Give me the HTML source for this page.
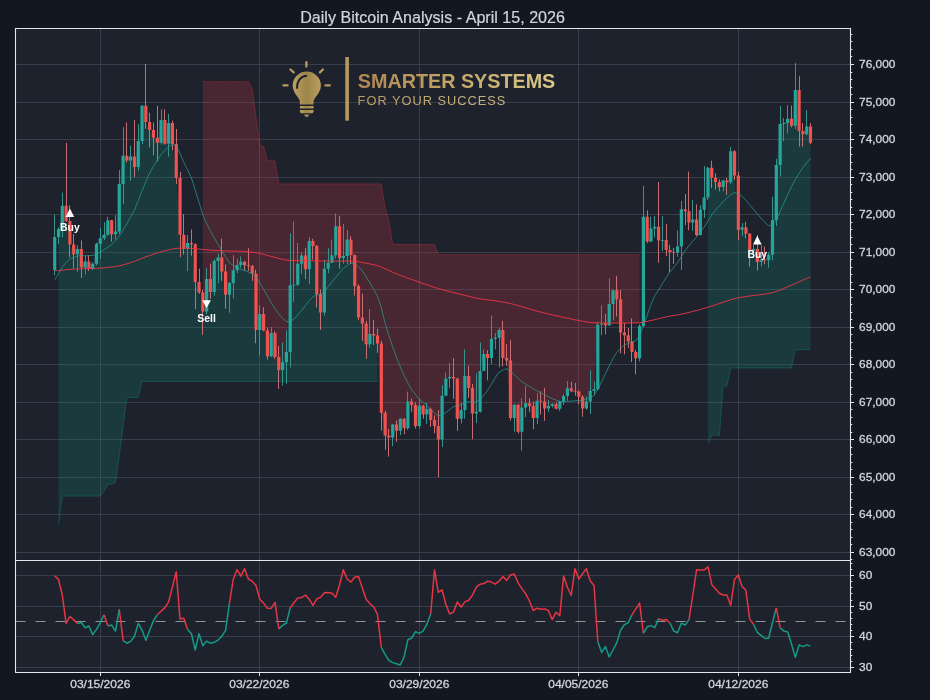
<!DOCTYPE html>
<html lang="en"><head><meta charset="utf-8"><title>Daily Bitcoin Analysis - April 15, 2026</title>
<style>html,body{margin:0;padding:0;background:#131722;}body{width:930px;height:700px;overflow:hidden;font-family:"Liberation Sans",sans-serif;}svg{display:block;will-change:transform}</style>
</head><body>
<svg width="930" height="700" viewBox="0 0 930 700" font-family="'Liberation Sans', sans-serif">
<defs>
<linearGradient id="g1" x1="0" y1="0" x2="1" y2="0"><stop offset="0" stop-color="#b98f54"/><stop offset="0.5" stop-color="#d1b06c"/><stop offset="1" stop-color="#e8d690"/></linearGradient>
<linearGradient id="g2" x1="0" y1="0" x2="1" y2="0"><stop offset="0" stop-color="#c9aa68"/><stop offset="0.5" stop-color="#a58d4c"/><stop offset="1" stop-color="#c8aa66"/></linearGradient>
<linearGradient id="g3" x1="0" y1="0" x2="1" y2="0"><stop offset="0" stop-color="#c2a565"/><stop offset="1" stop-color="#d6c283"/></linearGradient>
<clipPath id="cu"><rect x="15.5" y="28.5" width="835.0" height="532.0"/></clipPath>
<clipPath id="cl"><rect x="15.5" y="560.5" width="835.0" height="112.0"/></clipPath>
</defs>
<rect width="930" height="700" fill="#131722"/>
<rect x="15.5" y="28.5" width="835.0" height="644.0" fill="#1e222d"/>
<path d="M100.50 28.5V672.5M259.50 28.5V672.5M419.50 28.5V672.5M578.50 28.5V672.5M738.50 28.5V672.5M15.5 552.50H850.5M15.5 514.50H850.5M15.5 477.50H850.5M15.5 439.50H850.5M15.5 402.50H850.5M15.5 364.50H850.5M15.5 327.50H850.5M15.5 289.50H850.5M15.5 252.50H850.5M15.5 214.50H850.5M15.5 177.50H850.5M15.5 139.50H850.5M15.5 102.50H850.5M15.5 64.50H850.5M15.5 667.50H850.5M15.5 636.50H850.5M15.5 606.50H850.5M15.5 575.50H850.5" stroke="#393d49" stroke-width="1" fill="none"/>
<g clip-path="url(#cu)">
<path d="M58.5 228.9L62.3 205.8L66.1 221.0L69.9 244.6L73.7 254.3L77.5 249.1L81.3 267.5L85.1 261.5L88.9 269.0L92.7 263.8L96.5 243.8L100.3 238.3L104.1 234.8L107.9 220.2L111.7 234.3L115.5 231.6L119.3 184.1L123.1 155.8L126.9 160.4L130.7 156.6L134.5 167.0L138.3 141.0L142.1 105.8L145.9 122.0L149.7 129.9L153.4 137.7L157.2 142.8L161.0 120.1L164.8 143.7L168.6 123.0L172.4 144.0L176.2 178.1L180.0 234.8L183.8 248.7L187.6 243.0L191.4 244.2L195.2 282.0L199.0 292.4L202.8 311.6L206.6 279.1L210.4 292.0L214.2 261.1L218.0 257.6L221.8 271.4L225.6 294.7L229.4 283.1L233.2 270.3L237.0 265.0L240.8 261.8L244.6 265.2L248.4 265.8L252.2 273.5L256.0 329.9L259.8 314.1L263.6 330.4L267.4 356.2L271.2 333.0L275.0 357.1L278.8 370.0L282.6 362.3L286.4 351.9L290.2 285.2L294.0 284.8L297.8 263.7L301.6 255.4L305.4 269.2L309.2 240.9L313.0 246.1L316.8 294.3L320.6 312.5L324.4 268.8L328.2 262.8L332.0 255.2L335.8 226.2L339.6 258.0L343.3 256.0L347.1 239.6L350.9 255.0L354.7 286.0L358.5 317.5L362.3 323.5L366.1 344.2L369.9 333.9L373.7 335.6L377.5 343.5L377.5 381.4L373.7 381.4L369.9 381.4L366.1 381.4L362.3 381.4L358.5 381.4L354.7 381.4L350.9 381.4L347.1 381.4L343.3 381.4L339.6 381.4L335.8 381.4L332.0 381.4L328.2 381.4L324.4 381.4L320.6 381.4L316.8 381.4L313.0 381.4L309.2 381.4L305.4 381.4L301.6 381.4L297.8 381.4L294.0 381.4L290.2 381.4L286.4 381.4L282.6 381.4L278.8 381.4L275.0 381.4L271.2 381.4L267.4 381.4L263.6 381.4L259.8 381.4L256.0 381.4L252.2 381.4L248.4 381.4L244.6 381.4L240.8 381.4L237.0 381.4L233.2 381.4L229.4 381.4L225.6 381.4L221.8 381.4L218.0 381.4L214.2 381.4L210.4 381.4L206.6 381.4L202.8 381.4L199.0 381.4L195.2 381.4L191.4 381.4L187.6 381.4L183.8 381.4L180.0 381.4L176.2 381.4L172.4 381.4L168.6 381.4L164.8 381.4L161.0 381.4L157.2 381.4L153.4 381.4L149.7 381.4L145.9 381.4L142.1 381.4L138.3 397.5L134.5 397.5L130.7 397.5L126.9 397.5L123.1 426.5L119.3 455.5L115.5 482.6L111.7 484.0L107.9 484.4L104.1 491.3L100.3 496.1L96.5 496.1L92.7 496.1L88.9 496.1L85.1 496.1L81.3 496.1L77.5 496.1L73.7 496.1L69.9 496.1L66.1 496.1L62.3 496.1L58.5 524.8Z" fill="#089981" fill-opacity="0.2"/>
<path d="M58.5 524.8L62.3 496.1L66.1 496.1L69.9 496.1L73.7 496.1L77.5 496.1L81.3 496.1L85.1 496.1L88.9 496.1L92.7 496.1L96.5 496.1L100.3 496.1L104.1 491.3L107.9 484.4L111.7 484.0L115.5 482.6L119.3 455.5L123.1 426.5L126.9 397.5L130.7 397.5L134.5 397.5L138.3 397.5L142.1 381.4L145.9 381.4L149.7 381.4L153.4 381.4L157.2 381.4L161.0 381.4L164.8 381.4L168.6 381.4L172.4 381.4L176.2 381.4L180.0 381.4L183.8 381.4L187.6 381.4L191.4 381.4L195.2 381.4L199.0 381.4L202.8 381.4L206.6 381.4L210.4 381.4L214.2 381.4L218.0 381.4L221.8 381.4L225.6 381.4L229.4 381.4L233.2 381.4L237.0 381.4L240.8 381.4L244.6 381.4L248.4 381.4L252.2 381.4L256.0 381.4L259.8 381.4L263.6 381.4L267.4 381.4L271.2 381.4L275.0 381.4L278.8 381.4L282.6 381.4L286.4 381.4L290.2 381.4L294.0 381.4L297.8 381.4L301.6 381.4L305.4 381.4L309.2 381.4L313.0 381.4L316.8 381.4L320.6 381.4L324.4 381.4L328.2 381.4L332.0 381.4L335.8 381.4L339.6 381.4L343.3 381.4L347.1 381.4L350.9 381.4L354.7 381.4L358.5 381.4L362.3 381.4L366.1 381.4L369.9 381.4L373.7 381.4L377.5 381.4" stroke="#089981" stroke-opacity="0.35" stroke-width="1" fill="none"/>
<path d="M202.8 81.7L206.6 81.7L210.4 81.7L214.2 81.7L218.0 81.7L221.8 81.7L225.6 81.7L229.4 81.7L233.2 81.7L237.0 81.7L240.8 81.7L244.6 81.7L248.4 81.7L252.2 88.9L256.0 117.3L259.8 145.7L263.6 146.6L267.4 160.3L271.2 160.8L275.0 161.2L278.8 183.9L282.6 183.9L286.4 183.9L290.2 183.9L294.0 183.9L297.8 183.9L301.6 183.9L305.4 183.9L309.2 183.9L313.0 183.9L316.8 183.9L320.6 183.9L324.4 183.9L328.2 183.9L332.0 183.9L335.8 183.9L339.6 183.9L343.3 183.9L347.1 183.9L350.9 183.9L354.7 183.9L358.5 183.9L362.3 183.9L366.1 183.9L369.9 183.9L373.7 183.9L377.5 183.9L381.3 183.9L385.1 208.3L388.9 220.5L392.7 244.5L396.5 244.5L400.3 244.5L404.1 244.5L407.9 244.5L411.7 244.5L415.5 244.5L419.3 244.5L423.1 244.5L426.9 244.5L430.7 244.5L434.5 244.5L438.3 254.7L442.1 254.7L445.9 254.7L449.7 254.7L453.5 254.7L457.3 254.7L461.1 254.7L464.9 254.7L468.7 254.7L472.5 254.7L476.3 254.7L480.1 254.7L483.9 254.7L487.7 254.7L491.5 254.7L495.3 254.7L499.1 254.7L502.9 254.7L506.7 254.7L510.5 254.7L514.3 254.7L518.1 254.7L521.9 254.7L525.7 254.7L529.5 254.7L533.2 254.7L537.0 254.7L540.8 254.7L544.6 254.7L548.4 254.7L552.2 254.7L556.0 254.7L559.8 254.7L563.6 254.7L567.4 254.7L571.2 254.7L575.0 254.7L578.8 254.7L582.6 254.7L586.4 254.7L590.2 254.7L594.0 254.7L597.8 254.7L601.6 254.7L605.4 254.7L609.2 254.7L613.0 254.7L616.8 254.7L620.6 254.7L624.4 254.7L628.2 254.7L632.0 254.7L635.8 254.7L639.6 254.7L639.6 323.2L635.8 323.2L632.0 323.2L628.2 323.2L624.4 323.2L620.6 323.2L616.8 323.2L613.0 323.2L609.2 323.2L605.4 323.2L601.6 323.2L597.8 323.2L594.0 389.2L590.2 390.9L586.4 401.6L582.6 408.5L578.8 396.8L575.0 391.6L571.2 391.3L567.4 388.2L563.6 396.1L559.8 401.3L556.0 408.8L552.2 404.2L548.4 405.9L544.6 408.5L540.8 401.6L537.0 400.8L533.2 418.0L529.5 405.9L525.7 403.3L521.9 407.6L518.1 431.7L514.3 404.7L510.5 418.0L506.7 360.4L502.9 358.0L499.1 329.9L495.3 337.8L491.5 339.0L487.7 358.0L483.9 354.0L480.1 370.9L476.3 411.8L472.5 413.5L468.7 387.9L464.9 376.0L461.1 410.1L457.3 418.7L453.5 378.6L449.7 376.9L445.9 378.6L442.1 395.8L438.3 439.4L434.5 426.1L430.7 419.9L426.9 408.9L423.1 414.4L419.3 405.8L415.5 426.1L411.7 405.0L407.9 401.5L404.1 428.2L400.3 418.7L396.5 430.8L392.7 424.4L388.9 437.6L385.1 435.4L381.3 412.7L377.5 343.5L373.7 335.6L369.9 333.9L366.1 344.2L362.3 323.5L358.5 317.5L354.7 286.0L350.9 255.0L347.1 239.6L343.3 256.0L339.6 258.0L335.8 226.2L332.0 255.2L328.2 262.8L324.4 268.8L320.6 312.5L316.8 294.3L313.0 246.1L309.2 240.9L305.4 269.2L301.6 255.4L297.8 263.7L294.0 284.8L290.2 285.2L286.4 351.9L282.6 362.3L278.8 370.0L275.0 357.1L271.2 333.0L267.4 356.2L263.6 330.4L259.8 314.1L256.0 329.9L252.2 273.5L248.4 265.8L244.6 265.2L240.8 261.8L237.0 265.0L233.2 270.3L229.4 283.1L225.6 294.7L221.8 271.4L218.0 257.6L214.2 261.1L210.4 292.0L206.6 279.1L202.8 311.6Z" fill="#f23645" fill-opacity="0.2"/>
<path d="M202.8 81.7L206.6 81.7L210.4 81.7L214.2 81.7L218.0 81.7L221.8 81.7L225.6 81.7L229.4 81.7L233.2 81.7L237.0 81.7L240.8 81.7L244.6 81.7L248.4 81.7L252.2 88.9L256.0 117.3L259.8 145.7L263.6 146.6L267.4 160.3L271.2 160.8L275.0 161.2L278.8 183.9L282.6 183.9L286.4 183.9L290.2 183.9L294.0 183.9L297.8 183.9L301.6 183.9L305.4 183.9L309.2 183.9L313.0 183.9L316.8 183.9L320.6 183.9L324.4 183.9L328.2 183.9L332.0 183.9L335.8 183.9L339.6 183.9L343.3 183.9L347.1 183.9L350.9 183.9L354.7 183.9L358.5 183.9L362.3 183.9L366.1 183.9L369.9 183.9L373.7 183.9L377.5 183.9L381.3 183.9L385.1 208.3L388.9 220.5L392.7 244.5L396.5 244.5L400.3 244.5L404.1 244.5L407.9 244.5L411.7 244.5L415.5 244.5L419.3 244.5L423.1 244.5L426.9 244.5L430.7 244.5L434.5 244.5L438.3 254.7L442.1 254.7L445.9 254.7L449.7 254.7L453.5 254.7L457.3 254.7L461.1 254.7L464.9 254.7L468.7 254.7L472.5 254.7L476.3 254.7L480.1 254.7L483.9 254.7L487.7 254.7L491.5 254.7L495.3 254.7L499.1 254.7L502.9 254.7L506.7 254.7L510.5 254.7L514.3 254.7L518.1 254.7L521.9 254.7L525.7 254.7L529.5 254.7L533.2 254.7L537.0 254.7L540.8 254.7L544.6 254.7L548.4 254.7L552.2 254.7L556.0 254.7L559.8 254.7L563.6 254.7L567.4 254.7L571.2 254.7L575.0 254.7L578.8 254.7L582.6 254.7L586.4 254.7L590.2 254.7L594.0 254.7L597.8 254.7L601.6 254.7L605.4 254.7L609.2 254.7L613.0 254.7L616.8 254.7L620.6 254.7L624.4 254.7L628.2 254.7L632.0 254.7L635.8 254.7L639.6 254.7" stroke="#f23645" stroke-opacity="0.3" stroke-width="1" fill="none"/>
<path d="M708.0 167.8L711.8 177.8L715.6 182.1L719.4 187.0L723.1 180.5L726.9 182.3L730.7 151.3L734.5 175.5L738.3 229.7L742.1 227.3L745.9 233.7L749.7 250.4L753.5 249.0L757.3 262.0L761.1 259.4L764.9 260.2L768.7 254.7L772.5 220.0L776.3 164.9L780.1 124.0L783.9 123.1L787.7 118.8L791.5 125.7L795.3 89.9L799.1 130.9L802.9 134.3L806.7 126.6L810.5 142.8L810.5 349.6L806.7 349.6L802.9 349.6L799.1 349.6L795.3 349.6L791.5 368.0L787.7 368.0L783.9 368.0L780.1 368.0L776.3 368.0L772.5 368.0L768.7 368.0L764.9 368.0L761.1 368.0L757.3 368.0L753.5 368.0L749.7 368.0L745.9 368.0L742.1 368.0L738.3 368.0L734.5 368.0L730.7 368.0L726.9 385.8L723.1 385.8L719.4 435.3L715.6 435.3L711.8 435.3L708.0 443.4Z" fill="#089981" fill-opacity="0.2"/>
<path d="M708.0 443.4L711.8 435.3L715.6 435.3L719.4 435.3L723.1 385.8L726.9 385.8L730.7 368.0L734.5 368.0L738.3 368.0L742.1 368.0L745.9 368.0L749.7 368.0L753.5 368.0L757.3 368.0L761.1 368.0L764.9 368.0L768.7 368.0L772.5 368.0L776.3 368.0L780.1 368.0L783.9 368.0L787.7 368.0L791.5 368.0L795.3 349.6L799.1 349.6L802.9 349.6L806.7 349.6L810.5 349.6" stroke="#089981" stroke-opacity="0.35" stroke-width="1" fill="none"/>
<path d="M54.5 214.5V275.3M58.5 227.4V244.3M62.5 192.7V237.4M77.5 245.2V271.8M85.5 255.5V274.4M92.5 262.4V270.1M96.5 242.6V265.3M100.5 228.0V258.9M104.5 222.3V240.0M107.5 216.8V235.7M115.5 215.1V239.5M119.5 170.0V234.0M123.5 127.0V203.9M130.5 145.6V180.6M138.5 124.1V170.7M142.5 105.0V144.2M161.5 109.3V144.5M168.5 113.9V156.7M187.5 235.0V271.0M206.5 268.0V314.5M214.5 259.4V295.6M218.5 253.7V283.4M229.5 282.0V312.7M233.5 255.0V298.4M237.5 258.8V273.1M240.5 256.4V268.0M259.5 305.2V355.4M271.5 327.0V357.1M282.5 342.5V385.5M286.5 330.4V383.8M290.5 233.5V367.4M293.5 221.5V302.0M297.5 243.0V286.0M301.5 252.5V274.0M309.5 237.0V284.3M324.5 259.9V315.5M328.5 248.2V273.1M331.5 239.6V263.3M335.5 213.4V258.5M343.5 224.1V263.7M347.5 230.1V264.0M369.5 308.9V347.6M392.5 423.9V446.2M400.5 418.2V435.0M407.5 391.6V429.9M419.5 398.6V428.2M426.5 402.7V423.9M442.5 385.3V446.8M445.5 372.6V395.8M449.5 363.1V387.8M461.5 402.4V423.4M464.5 349.4V418.7M476.5 373.4V423.0M480.5 342.5V412.6M483.5 349.4V371.0M491.5 315.4V364.0M495.5 333.0V349.4M499.5 327.8V367.3M514.5 404.2V431.7M521.5 398.2V450.6M525.5 386.1V417.1M537.5 393.0V424.0M548.5 399.9V411.9M552.5 403.3V407.6M559.5 400.8V411.1M563.5 393.9V405.0M567.5 381.0V400.8M586.5 396.5V409.4M590.5 370.3V414.0M594.5 381.3V395.1M597.5 321.8V390.4M601.5 305.2V335.2M609.5 278.4V325.4M613.5 289.5V320.4M639.5 324.2V361.5M643.5 185.8V327.0M650.5 216.8V242.2M654.5 216.1V237.4M662.5 216.1V250.9M677.5 230.6V256.9M681.5 201.0V269.8M692.5 200.1V230.6M700.5 205.1V235.6M704.5 166.0V218.0M707.5 166.8V200.2M723.5 179.6V191.2M730.5 147.2V184.0M742.5 223.0V236.0M753.5 245.0V258.0M761.5 244.8V266.3M768.5 252.5V267.6M772.5 196.8V260.3M776.5 159.0V226.0M780.5 105.9V176.5M783.5 118.0V141.2M787.5 105.1V133.4M795.5 62.9V129.1M806.5 109.9V135.2" stroke="#37a096" stroke-width="1" stroke-opacity="0.9" fill="none"/>
<path d="M53.10 237.0h3.2v33.1h-3.2zM56.90 228.9h3.2v8.1h-3.2zM60.70 205.8h3.2v23.1h-3.2zM75.89 249.1h3.2v5.2h-3.2zM83.48 261.5h3.2v6.0h-3.2zM91.08 263.8h3.2v5.2h-3.2zM94.88 243.8h3.2v20.0h-3.2zM98.68 238.3h3.2v5.5h-3.2zM102.47 234.8h3.2v3.5h-3.2zM106.27 220.2h3.2v14.6h-3.2zM113.87 231.6h3.2v2.7h-3.2zM117.67 184.1h3.2v47.5h-3.2zM121.46 155.8h3.2v28.3h-3.2zM129.06 156.6h3.2v3.8h-3.2zM136.66 141.0h3.2v26.0h-3.2zM140.45 105.8h3.2v35.2h-3.2zM159.44 120.1h3.2v22.7h-3.2zM167.04 123.0h3.2v20.7h-3.2zM186.03 243.0h3.2v5.7h-3.2zM205.02 279.1h3.2v32.5h-3.2zM212.62 261.1h3.2v30.9h-3.2zM216.41 257.6h3.2v3.5h-3.2zM227.81 283.1h3.2v11.6h-3.2zM231.61 270.3h3.2v12.8h-3.2zM235.40 265.0h3.2v5.3h-3.2zM239.20 261.8h3.2v3.2h-3.2zM258.19 314.1h3.2v15.8h-3.2zM269.59 333.0h3.2v23.2h-3.2zM280.98 362.3h3.2v7.7h-3.2zM284.78 351.9h3.2v10.4h-3.2zM288.58 285.2h3.2v66.7h-3.2zM292.37 284.8h3.2v0.7h-3.2zM296.17 263.7h3.2v21.1h-3.2zM299.97 255.4h3.2v8.3h-3.2zM307.57 240.9h3.2v28.3h-3.2zM322.76 268.8h3.2v43.7h-3.2zM326.56 262.8h3.2v6.0h-3.2zM330.35 255.2h3.2v7.6h-3.2zM334.15 226.2h3.2v29.0h-3.2zM341.75 256.0h3.2v2.0h-3.2zM345.55 239.6h3.2v16.4h-3.2zM368.33 333.9h3.2v10.3h-3.2zM391.12 424.4h3.2v13.2h-3.2zM398.72 418.7h3.2v12.1h-3.2zM406.31 401.5h3.2v26.7h-3.2zM417.71 405.8h3.2v20.3h-3.2zM425.30 408.9h3.2v5.5h-3.2zM440.50 395.8h3.2v43.6h-3.2zM444.29 378.6h3.2v17.2h-3.2zM448.09 376.9h3.2v1.7h-3.2zM459.49 410.1h3.2v8.6h-3.2zM463.28 376.0h3.2v34.1h-3.2zM474.68 411.8h3.2v1.7h-3.2zM478.48 370.9h3.2v40.9h-3.2zM482.27 354.0h3.2v16.9h-3.2zM489.87 339.0h3.2v19.0h-3.2zM493.67 337.8h3.2v1.2h-3.2zM497.47 329.9h3.2v7.9h-3.2zM512.66 404.7h3.2v13.3h-3.2zM520.25 407.6h3.2v24.1h-3.2zM524.05 403.3h3.2v4.3h-3.2zM535.45 400.8h3.2v17.2h-3.2zM546.84 405.9h3.2v2.6h-3.2zM550.64 404.2h3.2v1.7h-3.2zM558.23 401.3h3.2v7.5h-3.2zM562.03 396.1h3.2v5.2h-3.2zM565.83 388.2h3.2v7.9h-3.2zM584.82 401.6h3.2v6.9h-3.2zM588.62 390.9h3.2v10.7h-3.2zM592.42 389.2h3.2v1.7h-3.2zM596.21 324.6h3.2v64.6h-3.2zM600.01 323.6h3.2v1.0h-3.2zM607.61 304.0h3.2v21.4h-3.2zM611.41 290.3h3.2v13.7h-3.2zM637.99 326.0h3.2v32.2h-3.2zM641.79 216.8h3.2v109.2h-3.2zM649.39 228.5h3.2v12.9h-3.2zM653.18 226.8h3.2v1.7h-3.2zM660.78 240.0h3.2v0.7h-3.2zM675.97 246.6h3.2v5.8h-3.2zM679.77 209.2h3.2v37.4h-3.2zM691.16 219.5h3.2v3.0h-3.2zM698.76 209.8h3.2v25.2h-3.2zM702.56 197.4h3.2v12.4h-3.2zM706.36 167.8h3.2v29.6h-3.2zM721.55 180.5h3.2v6.5h-3.2zM729.14 151.3h3.2v31.0h-3.2zM740.54 227.3h3.2v2.4h-3.2zM751.93 249.0h3.2v1.4h-3.2zM759.53 259.4h3.2v2.6h-3.2zM767.12 254.7h3.2v5.5h-3.2zM770.92 220.0h3.2v34.7h-3.2zM774.72 164.9h3.2v55.1h-3.2zM778.52 124.0h3.2v40.9h-3.2zM782.32 123.1h3.2v0.9h-3.2zM786.11 118.8h3.2v4.3h-3.2zM793.71 89.9h3.2v35.8h-3.2zM805.10 126.6h3.2v7.7h-3.2z" fill="#26a69a"/>
<path d="M66.5 142.9V221.9M69.5 205.2V257.2M73.5 234.0V268.4M81.5 240.5V277.9M88.5 255.5V271.0M111.5 220.0V241.7M126.5 122.5V162.6M134.5 120.0V177.2M145.5 64.0V128.8M149.5 112.7V147.4M153.5 122.4V155.3M157.5 105.8V161.4M164.5 109.3V144.6M172.5 120.8V150.5M176.5 129.0V184.1M180.5 172.0V257.2M183.5 214.2V254.6M191.5 229.5V255.6M195.5 243.4V309.2M199.5 268.7V294.0M202.5 290.0V334.8M210.5 263.7V298.8M221.5 238.7V280.9M225.5 264.5V308.7M244.5 261.1V270.5M248.5 248.2V270.9M252.5 265.0V280.9M255.5 269.7V343.3M263.5 307.3V331.3M267.5 327.8V359.7M274.5 331.3V358.8M278.5 345.9V388.9M305.5 248.2V279.1M312.5 238.7V259.4M316.5 245.0V307.4M320.5 289.5V329.9M339.5 215.8V268.8M350.5 236.1V264.0M354.5 254.5V295.5M358.5 284.3V320.1M362.5 293.8V340.8M366.5 321.0V358.8M373.5 320.1V345.0M377.5 328.7V352.8M381.5 340.8V430.8M385.5 410.6V449.7M388.5 429.0V456.6M396.5 420.4V441.9M404.5 418.2V434.2M411.5 398.5V411.8M415.5 402.4V428.5M423.5 405.0V418.7M430.5 407.5V426.8M434.5 415.3V433.3M438.5 410.1V477.2M453.5 358.0V398.9M457.5 377.8V430.8M468.5 365.7V398.2M472.5 383.8V439.4M487.5 350.2V380.3M502.5 321.0V366.5M506.5 344.2V365.7M510.5 340.2V420.5M518.5 404.2V433.4M529.5 398.5V411.9M533.5 401.6V429.1M540.5 391.3V414.5M544.5 387.8V420.9M556.5 402.5V409.4M571.5 381.8V392.2M575.5 383.0V395.6M578.5 390.4V404.2M582.5 395.1V416.8M605.5 314.0V334.2M616.5 275.8V316.5M620.5 290.1V353.2M624.5 323.0V354.3M628.5 328.0V348.0M631.5 318.3V362.0M635.5 350.0V374.3M647.5 210.4V243.1M658.5 182.0V262.9M666.5 224.2V256.0M669.5 244.8V272.4M673.5 247.8V263.8M685.5 194.1V225.1M688.5 171.7V230.2M696.5 204.4V236.0M711.5 160.7V188.2M715.5 173.3V189.5M719.5 179.3V191.3M726.5 178.0V195.0M734.5 150.3V180.0M738.5 171.8V240.0M745.5 221.7V238.2M749.5 233.0V266.6M757.5 234.9V270.6M764.5 246.5V264.1M791.5 105.4V127.4M799.5 76.2V146.5M802.5 123.1V146.6M810.5 123.1V144.3" stroke="#d8787a" stroke-width="1" stroke-opacity="0.9" fill="none"/>
<path d="M64.49 205.8h3.2v15.2h-3.2zM68.29 221.0h3.2v23.6h-3.2zM72.09 244.6h3.2v9.7h-3.2zM79.69 249.1h3.2v18.4h-3.2zM87.28 261.5h3.2v7.5h-3.2zM110.07 220.2h3.2v14.1h-3.2zM125.26 155.8h3.2v4.6h-3.2zM132.86 156.6h3.2v10.4h-3.2zM144.25 105.8h3.2v16.2h-3.2zM148.05 122.0h3.2v7.9h-3.2zM151.85 129.9h3.2v7.8h-3.2zM155.65 137.7h3.2v5.1h-3.2zM163.24 120.1h3.2v23.6h-3.2zM170.84 123.0h3.2v21.0h-3.2zM174.64 144.0h3.2v34.1h-3.2zM178.43 178.1h3.2v56.7h-3.2zM182.23 234.8h3.2v13.9h-3.2zM189.83 243.0h3.2v1.2h-3.2zM193.63 244.2h3.2v37.8h-3.2zM197.42 282.0h3.2v10.4h-3.2zM201.22 292.4h3.2v19.2h-3.2zM208.82 279.1h3.2v12.9h-3.2zM220.21 257.6h3.2v13.8h-3.2zM224.01 271.4h3.2v23.3h-3.2zM243.00 261.8h3.2v3.4h-3.2zM246.80 265.2h3.2v0.7h-3.2zM250.60 265.8h3.2v7.7h-3.2zM254.39 273.5h3.2v56.4h-3.2zM261.99 314.1h3.2v16.3h-3.2zM265.79 330.4h3.2v25.8h-3.2zM273.38 333.0h3.2v24.1h-3.2zM277.18 357.1h3.2v12.9h-3.2zM303.77 255.4h3.2v13.8h-3.2zM311.36 240.9h3.2v5.2h-3.2zM315.16 246.1h3.2v48.2h-3.2zM318.96 294.3h3.2v18.2h-3.2zM337.95 226.2h3.2v31.8h-3.2zM349.34 239.6h3.2v15.4h-3.2zM353.14 255.0h3.2v31.0h-3.2zM356.94 286.0h3.2v31.5h-3.2zM360.74 317.5h3.2v6.0h-3.2zM364.54 323.5h3.2v20.7h-3.2zM372.13 333.9h3.2v1.7h-3.2zM375.93 335.6h3.2v7.9h-3.2zM379.73 343.5h3.2v69.2h-3.2zM383.53 412.7h3.2v22.7h-3.2zM387.32 435.4h3.2v2.2h-3.2zM394.92 424.4h3.2v6.4h-3.2zM402.52 418.7h3.2v9.5h-3.2zM410.11 401.5h3.2v3.5h-3.2zM413.91 405.0h3.2v21.1h-3.2zM421.51 405.8h3.2v8.6h-3.2zM429.10 408.9h3.2v11.0h-3.2zM432.90 419.9h3.2v6.2h-3.2zM436.70 426.1h3.2v13.3h-3.2zM451.89 376.9h3.2v1.7h-3.2zM455.69 378.6h3.2v40.1h-3.2zM467.08 376.0h3.2v11.9h-3.2zM470.88 387.9h3.2v25.6h-3.2zM486.07 354.0h3.2v4.0h-3.2zM501.26 329.9h3.2v28.1h-3.2zM505.06 358.0h3.2v2.4h-3.2zM508.86 360.4h3.2v57.6h-3.2zM516.46 404.7h3.2v27.0h-3.2zM527.85 403.3h3.2v2.6h-3.2zM531.65 405.9h3.2v12.1h-3.2zM539.24 400.8h3.2v0.8h-3.2zM543.04 401.6h3.2v6.9h-3.2zM554.44 404.2h3.2v4.6h-3.2zM569.63 388.2h3.2v3.1h-3.2zM573.43 391.3h3.2v0.7h-3.2zM577.22 391.6h3.2v5.2h-3.2zM581.02 396.8h3.2v11.7h-3.2zM603.81 323.6h3.2v1.8h-3.2zM615.20 290.3h3.2v8.9h-3.2zM619.00 299.2h3.2v33.2h-3.2zM622.80 332.4h3.2v2.9h-3.2zM626.60 335.3h3.2v6.3h-3.2zM630.40 341.6h3.2v10.3h-3.2zM634.19 351.9h3.2v6.3h-3.2zM645.59 216.8h3.2v24.6h-3.2zM656.98 226.8h3.2v13.4h-3.2zM664.58 240.0h3.2v10.0h-3.2zM668.38 250.0h3.2v2.2h-3.2zM672.17 252.2h3.2v0.7h-3.2zM683.57 209.2h3.2v2.0h-3.2zM687.37 211.2h3.2v11.3h-3.2zM694.96 219.5h3.2v15.5h-3.2zM710.15 167.8h3.2v10.0h-3.2zM713.95 177.8h3.2v4.3h-3.2zM717.75 182.1h3.2v4.9h-3.2zM725.35 180.5h3.2v1.8h-3.2zM732.94 151.3h3.2v24.2h-3.2zM736.74 175.5h3.2v54.2h-3.2zM744.34 227.3h3.2v6.4h-3.2zM748.13 233.7h3.2v16.7h-3.2zM755.73 249.0h3.2v13.0h-3.2zM763.33 259.4h3.2v0.8h-3.2zM789.91 118.8h3.2v6.9h-3.2zM797.51 89.9h3.2v41.0h-3.2zM801.31 130.9h3.2v3.4h-3.2zM808.90 126.6h3.2v16.2h-3.2z" fill="#ef5350"/>
<path d="M54.7 279.9L58.5 273.6L62.3 266.9L66.1 262.6L69.9 258.9L73.7 257.4L77.5 255.9L81.3 255.7L85.1 255.7L88.9 255.6L92.7 255.5L96.5 254.0L100.3 252.2L104.1 249.7L107.9 247.2L111.7 244.4L115.5 241.1L119.3 236.2L123.1 229.9L126.9 223.7L130.7 216.8L134.5 210.0L138.3 200.4L142.1 190.8L145.9 181.4L149.7 173.0L153.4 166.4L157.2 160.3L161.0 154.6L164.8 150.4L168.6 146.6L172.4 144.7L176.2 145.7L180.0 153.2L183.8 162.5L187.6 169.8L191.4 177.9L195.2 190.1L199.0 202.2L202.8 214.6L206.6 223.2L210.4 230.8L214.2 237.8L218.0 244.3L221.8 250.6L225.6 256.7L229.4 262.8L233.2 265.5L237.0 268.1L240.8 269.5L244.6 270.4L248.4 271.9L252.2 274.0L256.0 277.0L259.8 283.1L263.6 289.2L267.4 295.9L271.2 302.7L275.0 308.5L278.8 313.9L282.6 318.3L286.4 321.4L290.2 321.6L294.0 319.1L297.8 314.8L301.6 310.5L305.4 305.5L309.2 300.6L313.0 296.8L316.8 294.9L320.6 294.5L324.4 291.6L328.2 286.7L332.0 281.7L335.8 277.2L339.6 272.8L343.3 268.5L347.1 265.8L350.9 263.0L354.7 263.5L358.5 266.9L362.3 270.7L366.1 276.8L369.9 282.9L373.7 289.4L377.5 296.0L381.3 307.9L385.1 323.0L388.9 335.7L392.7 347.1L396.5 357.1L400.3 367.0L404.1 375.5L407.9 383.1L411.7 389.7L415.5 394.5L419.3 399.2L423.1 402.4L426.9 405.5L430.7 409.7L434.5 412.8L438.3 415.7L442.1 414.7L445.9 412.6L449.7 409.6L453.5 406.7L457.3 405.7L461.1 404.7L464.9 403.2L468.7 401.6L472.5 402.0L476.3 402.0L480.1 399.1L483.9 395.4L487.7 390.1L491.5 384.1L495.3 377.5L499.1 372.1L502.9 370.1L506.7 368.6L510.5 371.4L514.3 374.7L518.1 378.5L521.9 381.8L525.7 384.1L529.5 386.4L533.2 388.7L537.0 390.9L540.8 392.9L544.6 394.8L548.4 396.7L552.2 398.6L556.0 400.1L559.8 401.6L563.6 401.6L567.4 401.3L571.2 401.1L575.0 400.8L578.8 400.5L582.6 400.2L586.4 399.3L590.2 397.8L594.0 395.3L597.8 389.5L601.6 381.8L605.4 373.8L609.2 366.1L613.0 358.5L616.8 352.3L620.6 348.5L624.4 344.9L628.2 343.4L632.0 341.8L635.8 340.6L639.6 335.4L643.4 326.0L647.2 315.1L651.0 304.5L654.8 295.7L658.6 290.0L662.4 283.7L666.2 277.5L670.0 271.8L673.8 267.2L677.6 262.6L681.4 256.5L685.2 250.4L689.0 245.6L692.8 241.2L696.6 236.8L700.4 232.0L704.2 227.0L708.0 220.9L711.8 214.8L715.6 210.2L719.4 205.7L723.1 201.7L726.9 197.9L730.7 194.8L734.5 192.5L738.3 193.7L742.1 196.3L745.9 200.5L749.7 204.7L753.5 209.3L757.3 213.9L761.1 218.3L764.9 222.5L768.7 225.9L772.5 224.4L776.3 220.2L780.1 211.6L783.9 203.1L787.7 194.6L791.5 186.7L795.3 179.6L799.1 173.4L802.9 167.6L806.7 162.8L810.5 158.2" stroke="#26a69a" stroke-width="0.75" stroke-opacity="0.9" fill="none" stroke-linejoin="round"/>
<path d="M54.7 270.9L58.5 270.5L62.3 270.1L66.1 269.7L69.9 269.4L73.7 269.1L77.5 269.0L81.3 268.8L85.1 268.7L88.9 268.6L92.7 268.4L96.5 268.3L100.3 268.1L104.1 267.8L107.9 267.4L111.7 267.0L115.5 266.5L119.3 265.8L123.1 264.9L126.9 263.8L130.7 262.6L134.5 261.3L138.3 259.8L142.1 258.3L145.9 256.8L149.7 255.5L153.4 254.2L157.2 253.1L161.0 251.9L164.8 250.8L168.6 249.9L172.4 249.0L176.2 248.4L180.0 248.2L183.8 248.1L187.6 248.1L191.4 248.3L195.2 248.6L199.0 249.1L202.8 249.5L206.6 249.8L210.4 250.1L214.2 250.4L218.0 250.6L221.8 250.8L225.6 250.9L229.4 251.0L233.2 251.0L237.0 251.1L240.8 251.2L244.6 251.4L248.4 251.7L252.2 252.2L256.0 252.7L259.8 253.5L263.6 254.4L267.4 255.4L271.2 256.4L275.0 257.4L278.8 258.4L282.6 259.3L286.4 260.0L290.2 260.4L294.0 260.6L297.8 260.6L301.6 260.6L305.4 260.6L309.2 260.7L313.0 260.7L316.8 260.8L320.6 260.9L324.4 260.9L328.2 261.0L332.0 261.1L335.8 261.1L339.6 261.1L343.3 261.1L347.1 261.1L350.9 261.1L354.7 261.3L358.5 261.8L362.3 262.5L366.1 263.2L369.9 263.9L373.7 264.7L377.5 265.7L381.3 267.1L385.1 268.8L388.9 270.5L392.7 272.2L396.5 273.8L400.3 275.3L404.1 276.7L407.9 278.1L411.7 279.5L415.5 280.8L419.3 282.2L423.1 283.5L426.9 284.8L430.7 286.1L434.5 287.4L438.3 288.6L442.1 289.7L445.9 290.7L449.7 291.6L453.5 292.5L457.3 293.5L461.1 294.4L464.9 295.4L468.7 296.3L472.5 297.2L476.3 298.1L480.1 298.8L483.9 299.4L487.7 299.9L491.5 300.3L495.3 300.8L499.1 301.4L502.9 302.1L506.7 302.8L510.5 303.6L514.3 304.5L518.1 305.6L521.9 306.7L525.7 307.8L529.5 308.9L533.2 310.1L537.0 311.1L540.8 312.1L544.6 313.0L548.4 313.9L552.2 314.8L556.0 315.7L559.8 316.6L563.6 317.4L567.4 318.2L571.2 319.0L575.0 319.8L578.8 320.5L582.6 321.3L586.4 322.0L590.2 322.5L594.0 322.7L597.8 322.9L601.6 322.9L605.4 323.0L609.2 323.1L613.0 323.1L616.8 323.1L620.6 323.1L624.4 323.1L628.2 323.0L632.0 322.9L635.8 322.9L639.6 322.6L643.4 322.1L647.2 321.4L651.0 320.5L654.8 319.6L658.6 318.7L662.4 317.7L666.2 316.9L670.0 316.1L673.8 315.5L677.6 314.9L681.4 314.2L685.2 313.3L689.0 312.4L692.8 311.4L696.6 310.5L700.4 309.5L704.2 308.3L708.0 307.2L711.8 306.0L715.6 304.8L719.4 303.5L723.1 302.3L726.9 301.0L730.7 299.7L734.5 298.7L738.3 297.8L742.1 297.2L745.9 296.6L749.7 296.0L753.5 295.5L757.3 295.0L761.1 294.6L764.9 294.1L768.7 293.5L772.5 292.6L776.3 291.5L780.1 290.1L783.9 288.4L787.7 286.8L791.5 285.1L795.3 283.4L799.1 281.8L802.9 280.1L806.7 278.5L810.5 276.8" stroke="#f23645" stroke-width="0.9" fill="none" stroke-linejoin="round"/>
<path d="M69.9 208.5l4.3 8.6h-8.6z" fill="#fff"/>
<text x="69.9" y="230.9" font-size="10.4" font-weight="bold" fill="#fff" text-anchor="middle">Buy</text>
<path d="M202.3 300.2h8.6l-4.3 7.8z" fill="#fff"/>
<text x="206.6" y="322.1" font-size="10.4" font-weight="bold" fill="#fff" text-anchor="middle">Sell</text>
<path d="M757.3 235.8l4.3 8.6h-8.6z" fill="#fff"/>
<text x="757.3" y="258.2" font-size="10.4" font-weight="bold" fill="#fff" text-anchor="middle">Buy</text>
</g>
<g clip-path="url(#cl)">
<path d="M15.5 621.5H850.5" stroke="#90939c" stroke-width="1" stroke-dasharray="10 10" fill="none"/>
<path d="M77.5 623.4L81.3 622.5L85.1 627.7L88.9 626.0L92.7 634.6L96.5 629.4L100.3 622.5L104.1 614.8M107.9 626.0L111.7 625.1L115.5 631.1L119.3 609.3M123.1 640.6L126.9 643.2L130.7 641.4L134.5 636.3L138.3 623.4L142.1 630.3L145.9 640.2L149.7 630.3L153.4 620.8L157.2 614.8M187.6 629.4L191.4 633.7L195.2 650.0L199.0 633.7L202.8 645.7L206.6 641.1L210.4 643.2L214.2 642.3L218.0 640.2L221.8 636.3L225.6 630.3L229.4 603.6M278.8 628.9L282.6 625.4L286.4 623.0L290.2 607.9M381.3 647.5L385.1 654.3L388.9 660.4L392.7 662.6L396.5 663.8L400.3 665.0L404.1 656.9L407.9 639.7L411.7 638.0L415.5 631.6L419.3 633.4L423.1 631.1L426.9 624.2L430.7 613.9M597.8 641.4L601.6 652.6L605.4 646.6L609.2 656.9L613.0 650.0L616.8 642.6L620.6 630.3L624.4 624.8L628.2 622.5L632.0 614.8M643.4 633.4L647.2 626.8L651.0 625.6L654.8 627.7L658.6 618.6M670.0 623.0L673.8 631.1L677.6 632.8L681.4 623.0L685.2 625.1L689.0 619.6M753.5 624.2L757.3 632.3L761.1 635.4L764.9 638.5L768.7 638.0L772.5 622.5L776.3 607.9M780.1 627.7L783.9 631.1L787.7 632.0L791.5 644.0L795.3 657.4L799.1 644.9L802.9 646.6L806.7 644.9L810.5 646.1" stroke="#14a18e" stroke-width="1.5" stroke-opacity="0.95" fill="none" stroke-linejoin="round" stroke-linecap="butt"/>
<path d="M54.7 575.7L58.5 579.5L62.3 595.0L66.1 623.4L69.9 616.5L73.7 619.9L77.5 623.4M104.1 614.8L107.9 626.0M119.3 609.3L123.1 640.6M157.2 614.8L161.0 611.3L164.8 607.9L168.6 601.9L172.4 587.2L176.2 571.8L180.0 619.1L183.8 618.2L187.6 629.4M229.4 603.6L233.2 579.5L237.0 569.7L240.8 576.1L244.6 568.7L248.4 579.0L252.2 581.2L256.0 585.5L259.8 599.3L263.6 603.1L267.4 608.2L271.2 608.4L275.0 602.4L278.8 628.9M290.2 607.9L294.0 602.7L297.8 597.9L301.6 597.6L305.4 595.0L309.2 599.3L313.0 605.3L316.8 598.9L320.6 597.2L324.4 592.8L328.2 592.4L332.0 593.3L335.8 597.2L339.6 584.7L343.3 569.7L347.1 579.0L350.9 582.1L354.7 577.3L358.5 576.6L362.3 588.1L366.1 599.3L369.9 603.6L373.7 607.0L377.5 614.4L381.3 647.5M430.7 613.9L434.5 570.0L438.3 592.4L442.1 589.8L445.9 604.5L449.7 613.9L453.5 612.2L457.3 601.9L461.1 607.0L464.9 601.9L468.7 600.2L472.5 595.0L476.3 587.2L480.1 584.2L483.9 583.5L487.7 581.2L491.5 582.1L495.3 584.2L499.1 581.2L502.9 576.6L506.7 580.4L510.5 574.9L514.3 574.0L518.1 582.9L521.9 588.6L525.7 593.8L529.5 601.0L533.2 610.5L537.0 608.2L540.8 609.3L544.6 608.9L548.4 610.5L552.2 619.6L556.0 612.2L559.8 615.6L563.6 576.1L567.4 587.2L571.2 595.5L575.0 568.7L578.8 579.0L582.6 573.8L586.4 568.7L590.2 580.7L594.0 585.5L597.8 641.4M632.0 614.8L635.8 608.8L639.6 603.1L643.4 633.4M658.6 618.6L662.4 620.3L666.2 619.6L670.0 623.0M689.0 619.6L692.8 595.0L696.6 569.7L700.4 570.0L704.2 570.0L708.0 566.9L711.8 584.7L715.6 589.0L719.4 593.3L723.1 595.0L726.9 595.0L730.7 605.3L734.5 579.5L738.3 574.9L742.1 586.4L745.9 590.3L749.7 619.1L753.5 624.2M776.3 607.9L780.1 627.7" stroke="#f23645" stroke-width="1.5" stroke-opacity="0.95" fill="none" stroke-linejoin="round" stroke-linecap="butt"/>
</g>
<path d="M15.5 28.5H850.5V672.5H15.5ZM15.5 560.5H850.5" stroke="#e4e6ed" stroke-width="1.1" fill="none"/>
<path d="M850.5 559.50h1.8M850.5 552.50h3.5M850.5 544.50h1.8M850.5 537.50h1.8M850.5 529.50h1.8M850.5 522.50h1.8M850.5 514.50h3.5M850.5 507.50h1.8M850.5 499.50h1.8M850.5 492.50h1.8M850.5 484.50h1.8M850.5 477.50h3.5M850.5 469.50h1.8M850.5 462.50h1.8M850.5 454.50h1.8M850.5 447.50h1.8M850.5 439.50h3.5M850.5 432.50h1.8M850.5 424.50h1.8M850.5 417.50h1.8M850.5 409.50h1.8M850.5 402.50h3.5M850.5 394.50h1.8M850.5 387.50h1.8M850.5 379.50h1.8M850.5 372.50h1.8M850.5 364.50h3.5M850.5 357.50h1.8M850.5 349.50h1.8M850.5 342.50h1.8M850.5 334.50h1.8M850.5 327.50h3.5M850.5 319.50h1.8M850.5 312.50h1.8M850.5 304.50h1.8M850.5 297.50h1.8M850.5 289.50h3.5M850.5 282.50h1.8M850.5 274.50h1.8M850.5 267.50h1.8M850.5 259.50h1.8M850.5 252.50h3.5M850.5 244.50h1.8M850.5 237.50h1.8M850.5 229.50h1.8M850.5 222.50h1.8M850.5 214.50h3.5M850.5 207.50h1.8M850.5 199.50h1.8M850.5 192.50h1.8M850.5 184.50h1.8M850.5 177.50h3.5M850.5 169.50h1.8M850.5 162.50h1.8M850.5 154.50h1.8M850.5 147.50h1.8M850.5 139.50h3.5M850.5 132.50h1.8M850.5 124.50h1.8M850.5 117.50h1.8M850.5 109.50h1.8M850.5 102.50h3.5M850.5 94.50h1.8M850.5 87.50h1.8M850.5 79.50h1.8M850.5 72.50h1.8M850.5 64.50h3.5M850.5 56.50h1.8M850.5 49.50h1.8M850.5 41.50h1.8M850.5 34.50h1.8M850.5 667.50h3.5M850.5 661.50h1.8M850.5 655.50h1.8M850.5 649.50h1.8M850.5 642.50h1.8M850.5 636.50h3.5M850.5 630.50h1.8M850.5 624.50h1.8M850.5 618.50h1.8M850.5 612.50h1.8M850.5 606.50h3.5M850.5 600.50h1.8M850.5 593.50h1.8M850.5 587.50h1.8M850.5 581.50h1.8M850.5 575.50h3.5M850.5 569.50h1.8M850.5 563.50h1.8M100.50 672.5v3.6M259.50 672.5v3.6M419.50 672.5v3.6M578.50 672.5v3.6M738.50 672.5v3.6" stroke="#e4e6ed" stroke-width="1" fill="none"/>
<g fill="#d1d4dc" font-size="11.4" stroke="#d1d4dc" stroke-width="0.3" transform="scale(1.045,1)">
<text x="822.11" y="555.80">63,000</text>
<text x="822.11" y="517.80">64,000</text>
<text x="822.11" y="480.80">65,000</text>
<text x="822.11" y="442.80">66,000</text>
<text x="822.11" y="405.80">67,000</text>
<text x="822.11" y="367.80">68,000</text>
<text x="822.11" y="330.80">69,000</text>
<text x="822.11" y="292.80">70,000</text>
<text x="822.11" y="255.80">71,000</text>
<text x="822.11" y="217.80">72,000</text>
<text x="822.11" y="180.80">73,000</text>
<text x="822.11" y="142.80">74,000</text>
<text x="822.11" y="105.80">75,000</text>
<text x="822.11" y="67.80">76,000</text>
<text x="822.11" y="670.80">30</text>
<text x="822.11" y="639.80">40</text>
<text x="822.11" y="609.80">50</text>
<text x="822.11" y="578.80">60</text>
</g>
<g fill="#d1d4dc" font-size="11.4" text-anchor="middle" stroke="#d1d4dc" stroke-width="0.3" transform="scale(1.055,1)">
<text x="95.07" y="688.1">03/15/2026</text>
<text x="245.78" y="688.1">03/22/2026</text>
<text x="397.44" y="688.1">03/29/2026</text>
<text x="548.15" y="688.1">04/05/2026</text>
<text x="699.81" y="688.1">04/12/2026</text>
</g>
<text x="432.6" y="23.2" font-size="16.1" fill="#d1d4dc" stroke="#d1d4dc" stroke-width="0.2" text-anchor="middle">Daily Bitcoin Analysis - April 15, 2026</text>
<g opacity="0.93">
<g stroke="#c6a460" stroke-width="2.3" stroke-linecap="round" fill="none">
<path d="M306.4 62.2V66.6M290.4 69.5L293.7 72.4M322.9 69.5L319.9 72.4M283.4 85.4H287.6M325.5 85.4H329.8"/>
</g>
<path d="M306.8 71.4c-7.9 0-14.1 6.3-14.1 14.1 0 4.6 2.3 8 4.6 11 1.5 2 2.6 3.6 2.6 6v1.9h13.6v-1.9c0-2.4 1.1-4 2.6-6 2.3-3 4.8-6.400 4.8-11 0-7.800-6.300-14.100-14.100-14.100z" fill="url(#g2)"/>
<path d="M306.2 75.8c-5.600 0.500-9.400 5.500-9.100 12.100" stroke="#1e222d" stroke-width="2" fill="none" stroke-linecap="round"/>
<rect x="299.9" y="105.9" width="13.6" height="2.6" rx="0.6" fill="url(#g2)"/>
<path d="M299.9 110h13.6v1.2c0 1.200-0.900 2.100-2.100 2.100h-9.400c-1.200 0-2.100-0.900-2.100-2.100z" fill="url(#g2)"/>
<path d="M304.1 114.400h5.200l-1.300 2.200c-0.600 0.700-2 0.700-2.600 0z" fill="url(#g2)"/>
<rect x="345.3" y="57" width="3.6" height="63.7" fill="#c2a262"/>
<text x="357.8" y="87.800" font-size="19.800" font-weight="bold" fill="url(#g1)" textLength="197.500" lengthAdjust="spacingAndGlyphs">SMARTER SYSTEMS</text>
<text x="357.6" y="105.100" font-size="12.800" fill="url(#g3)" textLength="147.800" lengthAdjust="spacing">FOR YOUR SUCCESS</text>
</g>
</svg>
</body></html>
